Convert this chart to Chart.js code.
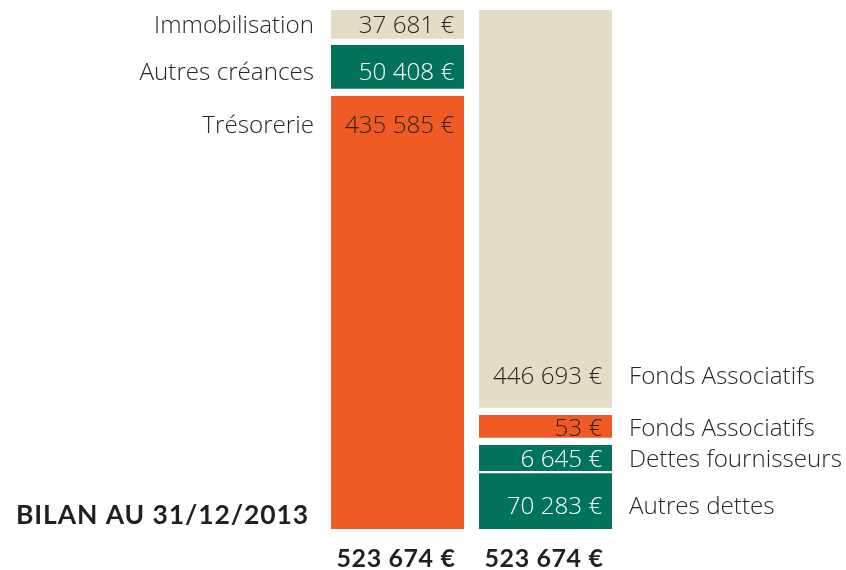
<!DOCTYPE html>
<html>
<head>
<meta charset="utf-8">
<script src="https://cdn.jsdelivr.net/npm/chart.js@4"></script>
<style>
  html, body { margin: 0; padding: 0; background: #ffffff; }
  #wrap { width: 846px; height: 570px; position: relative; }
</style>
</head>
<body>
<div id="wrap"><canvas id="c" width="846" height="570"></canvas></div>
<script>
// ---------- data ----------
const categories = ['Actif', 'Passif'];
const assetLabels = ['Immobilisation', 'Autres créances', 'Trésorerie'];
const assetAmounts = [37681, 50408, 435585];
// drawn segment sizes as shown in the picture (k€ scale, schematic)
const assetHeights = [32.2, 51.0, 440.5];
const liabilityLabels = ['Fonds Associatifs', 'Fonds Associatifs', 'Dettes fournisseurs', 'Autres dettes'];
const liabilityAmounts = [446693, 53, 6645, 70283];
const liabilityHeights = [405.0, 30.3, 31.1, 57.3];
const totals = [523674, 523674];
const titleText = 'BILAN AU 31/12/2013';

// ---------- styles ----------
const BEIGE = '#E3DDC6', GREEN = '#00735A', ORANGE = '#F05A24';
const DARK = '#2a2523', WHITE = '#ffffff';
const assetColors = [BEIGE, GREEN, ORANGE];
const assetTextColors = [DARK, WHITE, DARK];
const assetBorders = [{top:0,bottom:3.15,left:0,right:0},{top:3.15,bottom:3.65,left:0,right:0},{top:3.65,bottom:0,left:0,right:0}];
const assetAnchors = [{from:'top',dy:23.3},{from:'top',dy:38.2},{from:'top',dy:40.7}];
const liabilityColors = [BEIGE, ORANGE, GREEN, GREEN];
const liabilityTextColors = [DARK, DARK, WHITE, WHITE];
const liabilityBorders = [{top:0,bottom:3.65,left:0,right:0},{top:3.65,bottom:3.65,left:0,right:0},{top:3.65,bottom:1.15,left:0,right:0},{top:1.15,bottom:0,left:0,right:0}];
const liabilityAnchors = [{from:'bottom',dy:-27},{from:'bottom',dy:-5.4},{from:'bottom',dy:-5.4},{from:'bottom',dy:-15.4}];

const fmt = v => String(v).replace(/\B(?=(\d{3})+(?!\d))/g, ' ') + ' €';

// build datasets bottom-to-top
const datasets = [];
for (let i = assetLabels.length - 1; i >= 0; i--) {
  datasets.push({
    label: assetLabels[i], data: [assetHeights[i], null],
    backgroundColor: assetColors[i], borderColor: WHITE, borderWidth: assetBorders[i], borderSkipped: false,
    _side: 'left', _amount: assetAmounts[i], _text: assetTextColors[i], _anchor: assetAnchors[i], _cat: 0
  });
}
for (let i = liabilityLabels.length - 1; i >= 0; i--) {
  datasets.push({
    label: liabilityLabels[i], data: [null, liabilityHeights[i]],
    backgroundColor: liabilityColors[i], borderColor: WHITE, borderWidth: liabilityBorders[i], borderSkipped: false,
    _side: 'right', _amount: liabilityAmounts[i], _text: liabilityTextColors[i], _anchor: liabilityAnchors[i], _cat: 1
  });
}
const yMax = Math.max(assetHeights.reduce((a,b)=>a+b,0), liabilityHeights.reduce((a,b)=>a+b,0));

const LIGHT = '300 24.2px "Open Sans", Lato, sans-serif';
const BOLD_T = '700 25px Lato, "Open Sans", sans-serif';
const TITLE_F = '700 26.5px Lato, "Open Sans", sans-serif';

const labelPlugin = {
  id: 'segLabels',
  afterDatasetsDraw(chart) {
    const ctx = chart.ctx;
    ctx.save();
    chart.data.datasets.forEach((ds, di) => {
      const el = chart.getDatasetMeta(di).data[ds._cat];
      if (!el) return;
      const p = el.getProps(['x','y','base','width'], true);
      const top = Math.min(p.y, p.base), bottom = Math.max(p.y, p.base);
      const left = p.x - p.width/2, right = p.x + p.width/2;
      const baseY = (ds._anchor.from === 'top' ? top : bottom) + ds._anchor.dy;
      ctx.font = LIGHT;
      ctx.textBaseline = 'alphabetic';
      ctx.textAlign = 'right';
      ctx.fillStyle = ds._text;
      ctx.fillText(fmt(ds._amount), right - 9.8, baseY);
      ctx.fillStyle = DARK;
      if (ds._side === 'left') {
        ctx.textAlign = 'right';
        ctx.fillText(ds.label, left - 17, baseY);
      } else {
        ctx.textAlign = 'left';
        ctx.fillText(ds.label, right + 17, baseY);
      }
    });
    // totals
    const xs = chart.scales.x;
    const w = chart.getDatasetMeta(0).data[0].width;
    ctx.font = BOLD_T;
    ctx.fillStyle = '#231f20';
    ctx.textAlign = 'right';
    ctx.letterSpacing = '0.6px';
    totals.forEach((t, i) => {
      ctx.fillText(fmt(t), xs.getPixelForValue(i) + w/2 - 8.5, chart.chartArea.bottom + 38);
    });
    // title
    ctx.font = TITLE_F;
    ctx.textAlign = 'left';
    ctx.letterSpacing = '0.9px';
    ctx.fillText(titleText, 16, chart.chartArea.bottom - 4.7);
    ctx.letterSpacing = '0px';
    ctx.restore();
  }
};

new Chart(document.getElementById('c'), {
  type: 'bar',
  data: { labels: categories, datasets },
  options: {
    responsive: false,
    animation: false,
    events: [],
    layout: { padding: { left: 323.5, right: 226.5, top: 10, bottom: 41 } },
    datasets: { bar: { categoryPercentage: 0.8986, barPercentage: 1, inflateAmount: 0 } },
    scales: {
      x: { stacked: true, display: false },
      y: { stacked: true, display: false, min: 0, max: yMax }
    },
    plugins: { legend: { display: false }, tooltip: { enabled: false } }
  },
  plugins: [labelPlugin]
});
</script>
</body>
</html>
